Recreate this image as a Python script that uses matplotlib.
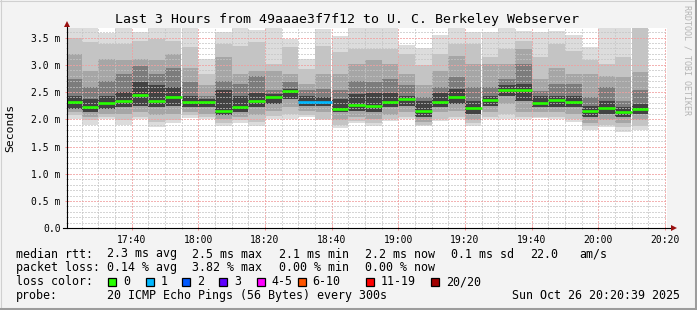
import numpy as np
import pandas as pd
import matplotlib
matplotlib.use("Agg")
import matplotlib.pyplot as plt
import matplotlib.dates as mdates
from matplotlib.patches import Rectangle
from matplotlib.lines import Line2D

# 5-minute RRD steps, smoke envelopes in ms (outer -> inner)
bar_start = pd.date_range("2025-10-26 17:20", periods=35, freq="5min")
smoke_max = [3.80, 3.80, 3.58, 3.80, 3.60, 3.80, 3.80, 3.80, 3.11, 3.60, 3.80, 3.63,
             3.80, 3.47, 3.10, 3.65, 3.52, 3.80, 3.80, 3.80, 3.37, 3.30, 3.55, 3.80,
             3.60, 3.60, 3.68, 3.62, 3.60, 3.62, 3.55, 3.32, 3.80, 3.80, 3.80]
smoke_hi3 = [3.50, 3.41, 3.38, 3.38, 3.44, 3.47, 3.44, 3.32, 2.83, 3.38, 3.35, 3.41,
             3.02, 3.32, 2.92, 3.35, 3.23, 3.29, 3.29, 3.29, 3.20, 3.00, 3.20, 3.38,
             3.38, 3.14, 3.29, 3.44, 3.14, 3.38, 3.26, 3.08, 3.01, 3.14, 3.80]
smoke_hi2 = [3.20, 2.89, 3.11, 3.08, 3.11, 3.08, 3.20, 2.95, 2.62, 3.14, 2.83, 2.89,
             2.89, 2.83, 2.65, 2.83, 2.83, 3.01, 3.08, 3.01, 2.83, 2.62, 2.89, 3.17,
             3.01, 3.01, 3.01, 3.29, 2.74, 2.95, 2.83, 2.83, 2.80, 2.77, 2.86]
smoke_hi1 = [2.74, 2.59, 2.71, 2.83, 2.98, 2.83, 2.95, 2.68, 2.43, 2.71, 2.65, 2.80,
             2.53, 2.68, 2.53, 2.56, 2.53, 2.71, 2.68, 2.74, 2.62, 2.40, 2.59, 2.77,
             2.59, 2.59, 2.74, 3.01, 2.52, 2.65, 2.65, 2.40, 2.59, 2.34, 2.53]
smoke_hi0 = [2.43, 2.37, 2.43, 2.50, 2.68, 2.62, 2.59, 2.43, 2.37, 2.53, 2.43, 2.49,
             2.46, 2.56, 2.43, 2.40, 2.37, 2.46, 2.49, 2.49, 2.43, 2.34, 2.49, 2.56,
             2.34, 2.43, 2.62, 2.65, 2.43, 2.43, 2.43, 2.25, 2.34, 2.22, 2.28]
median = [2.31, 2.23, 2.30, 2.34, 2.45, 2.34, 2.40, 2.32, 2.32, 2.16, 2.22, 2.34,
          2.41, 2.52, 2.31, 2.31, 2.19, 2.26, 2.24, 2.32, 2.38, 2.16, 2.32, 2.41,
          2.21, 2.35, 2.53, 2.54, 2.29, 2.35, 2.32, 2.15, 2.21, 2.13, 2.19]
smoke_lo0 = [2.19, 2.13, 2.19, 2.22, 2.25, 2.22, 2.25, 2.22, 2.22, 2.07, 2.13, 2.22,
             2.28, 2.37, 2.25, 2.25, 2.13, 2.16, 2.13, 2.22, 2.25, 2.04, 2.22, 2.28,
             2.10, 2.25, 2.43, 2.34, 2.22, 2.22, 2.22, 2.04, 2.10, 2.04, 2.10]
smoke_lo1 = [2.13, 2.04, 2.10, 2.10, 2.13, 2.07, 2.10, 2.13, 2.10, 2.00, 2.04, 2.07,
             2.16, 2.22, 2.16, 2.13, 1.98, 2.04, 2.01, 2.07, 2.13, 1.95, 2.13, 2.16,
             1.98, 2.13, 2.28, 2.13, 2.13, 2.13, 2.10, 1.93, 1.98, 1.93, 1.98]
smoke_lo2 = [2.07, 1.98, 2.04, 1.98, 2.04, 1.95, 1.98, 2.07, 2.04, 1.93, 1.98, 1.95,
             2.06, 2.10, 2.07, 2.01, 1.90, 1.97, 1.93, 2.00, 2.04, 1.90, 2.00, 2.04,
             1.93, 2.04, 2.10, 2.04, 2.05, 2.04, 2.00, 1.87, 1.90, 1.85, 1.87]
smoke_min = [2.00, 1.90, 2.00, 1.90, 2.00, 1.86, 1.94, 2.03, 2.00, 1.87, 1.93, 1.87,
             2.01, 2.01, 2.04, 1.99, 1.84, 1.93, 1.88, 1.97, 2.00, 1.87, 1.96, 2.00,
             1.88, 2.00, 2.00, 2.00, 2.02, 2.00, 1.95, 1.80, 1.85, 1.76, 1.80]
lost = [0, 0, 0, 0, 0, 0, 0, 0, 0, 0, 0, 0, 0, 0, 1, 1, 0, 0, 0, 0, 0, 0, 0, 0,
        0, 0, 0, 0, 0, 0, 0, 0, 0, 0, 0]

loss_labels = ["0", "1", "2", "3", "4-5", "6-10", "11-19", "20/20"]
loss_colors = ["#26ff00", "#00b8ff", "#0059ff", "#5e00ff", "#ff00ff", "#ff5500", "#ff0000", "#a10000"]

t_start = pd.Timestamp("2025-10-26 17:20:39")
t_end = pd.Timestamp("2025-10-26 20:20:39")

W, H = 697, 310
mono = "DejaVu Sans Mono"
plt.rcParams["font.family"] = mono

fig = plt.figure(figsize=(W / 100, H / 100), dpi=100, facecolor="#f3f3f3")
ax = fig.add_axes([67 / W, (H - 228.3) / H, 600 / W, (228.3 - 27.5) / H])
ax.set_facecolor("white")

x = mdates.date2num(bar_start)
width = 5 / 1440.0
layers = [(smoke_min, smoke_max, "#dcdcdc"),
          (smoke_lo2, smoke_hi3, "#c4c4c4"),
          (smoke_lo1, smoke_hi2, "#a6a6a6"),
          (smoke_lo0, smoke_hi1, "#7c7c7c"),
          (smoke_lo0, smoke_hi0, "#424242")]
for lo, hi, col in layers:
    lo = np.array(lo)
    hi = np.array(hi)
    ax.bar(x, hi - lo, bottom=lo, width=width, align="edge", color=col, linewidth=0, zorder=1)

med_cols = [loss_colors[n] for n in lost]
ax.hlines(median, x, x + width, colors=med_cols, linewidth=1.9, zorder=3)

ax.set_xlim(t_start, t_end)
ax.set_ylim(0, 3.684)

ax.xaxis.set_major_locator(mdates.MinuteLocator(byminute=[0, 20, 40]))
ax.xaxis.set_minor_locator(mdates.MinuteLocator(byminute=range(0, 60, 5)))
ax.xaxis.set_major_formatter(mdates.DateFormatter("%H:%M"))
ax.yaxis.set_major_locator(matplotlib.ticker.MultipleLocator(0.5))
ax.yaxis.set_minor_locator(matplotlib.ticker.MultipleLocator(0.1))
ax.yaxis.set_major_formatter(matplotlib.ticker.FuncFormatter(
    lambda v, p: "0.0" if abs(v) < 1e-9 else "%.1f m" % v))

ax.set_axisbelow(False)
ax.grid(which="minor", color="#c4c4c4", alpha=0.7, linestyle=(0, (1, 1)), linewidth=1.0,
        antialiased=False)
ax.grid(which="major", color="#f0a0a0", alpha=0.8, linestyle=(0, (1, 1)), linewidth=1.0,
        antialiased=False)
ax.tick_params(which="major", length=3, width=0.7, color="#ff9090", direction="inout",
               labelsize=7, pad=3)
ax.tick_params(which="minor", length=2, width=0.6, color="#b0b0b0", direction="inout")
for s in ax.spines.values():
    s.set_visible(False)

# axes with arrow heads
ax.plot([-4 / 600, 1 + 4 / 600], [0, 0], transform=ax.transAxes, color="black",
        lw=0.8, clip_on=False, zorder=5)
ax.plot([0, 0], [0, 1 + 1 / 200.8], transform=ax.transAxes, color="black",
        lw=0.8, clip_on=False, zorder=5)
ax.plot([1 + 7 / 600], [0], transform=ax.transAxes, marker=">", ms=4.5, color="#9a1010",
        clip_on=False, zorder=6, markeredgewidth=0)
ax.plot([0], [1 + 4 / 200.8], transform=ax.transAxes, marker="^", ms=4.5, color="#9a1010",
        clip_on=False, zorder=6, markeredgewidth=0)

def fx(px):
    return px / W

def fy(py):
    return 1 - py / H

fig.text(fx(347), fy(19), "Last 3 Hours from 49aaae3f7f12 to U. C. Berkeley Webserver",
         ha="center", va="center", fontsize=9.5, family=mono)
fig.text(fx(10), fy(128), "Seconds", rotation=90, ha="center", va="center",
         fontsize=8.2, family=mono)
fig.text(fx(687), fy(5), "RRDTOOL / TOBI OETIKER", rotation=270, ha="center", va="top",
         fontsize=6, family=mono, color="#b4b4b4")

fs = 8.4
rows = [
    (254, [("median rtt:", 16), ("2.3 ms avg", 107), ("2.5 ms max", 192), ("2.1 ms min", 279),
           ("2.2 ms now", 365), ("0.1 ms sd", 451), ("22.0", 530), ("am/s", 579)]),
    (267.7, [("packet loss:", 16), ("0.14 % avg", 107), ("3.82 % max", 192),
             ("0.00 % min", 279), ("0.00 % now", 365)]),
    (281.7, [("loss color:", 16)]),
    (295.7, [("probe:", 16), ("20 ICMP Echo Pings (56 Bytes) every 300s", 107)]),
]
for yy, items in rows:
    for txt, xx in items:
        fig.text(fx(xx), fy(yy), txt, ha="left", va="center", fontsize=fs, family=mono)
fig.text(fx(680), fy(295.7), "Sun Oct 26 20:20:39 2025", ha="right", va="center",
         fontsize=fs, family=mono)

box_x = [108, 145.7, 182.3, 219.3, 256.7, 297.7, 365.7, 430.7]
for bx, lab, col in zip(box_x, loss_labels, loss_colors):
    fig.patches.append(Rectangle((fx(bx), fy(286)), 8 / W, 8 / H, transform=fig.transFigure,
                                 facecolor=col, edgecolor="black", linewidth=0.9))
    fig.text(fx(bx + 15), fy(281.7), lab, ha="left", va="center", fontsize=fs, family=mono)

# frame of the canvas
fig.add_artist(Line2D([0, 1], [fy(0.5)] * 2, color="#d0d0d0", lw=0.8, transform=fig.transFigure))
fig.add_artist(Line2D([fx(0.5)] * 2, [0, 1], color="#d0d0d0", lw=0.8, transform=fig.transFigure))
fig.add_artist(Line2D([0, 1], [fy(308.5)] * 2, color="#9c9c9c", lw=2.2, transform=fig.transFigure))
fig.add_artist(Line2D([fx(695.5)] * 2, [0, 1], color="#9c9c9c", lw=2.2, transform=fig.transFigure))

fig.savefig("out.png", dpi=100, facecolor=fig.get_facecolor())
